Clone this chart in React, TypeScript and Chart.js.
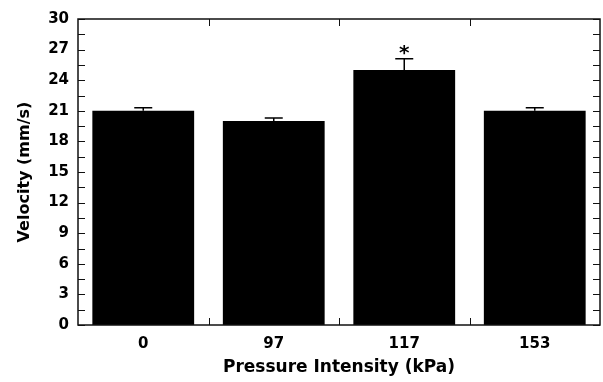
import React, { useEffect, useRef } from "react";
import { Chart, registerables } from "chart.js";

Chart.register(...registerables);

const categories = ["0", "97", "117", "153"];
const velocity = [21.0, 20.0, 25.0, 21.0];
const errors = [0.3, 0.3, 1.1, 0.3];
const significance = ["", "", "*", ""];
const yTicks = [0, 3, 6, 9, 12, 15, 18, 21, 24, 27, 30];

const FONT = "'DejaVu Sans', sans-serif";

const decorPlugin = {
  id: "decor",
  afterDatasetsDraw(chart: any) {
    const { ctx, chartArea, scales } = chart;
    const x = scales.x;
    const y = scales.y;
    const { left, right, top, bottom } = chartArea;
    ctx.save();
    ctx.strokeStyle = "#000";
    ctx.lineWidth = 1.5;
    const meta = chart.getDatasetMeta(0);
    meta.data.forEach((bar: any, i: number) => {
      const cx = bar.x;
      const yTop = y.getPixelForValue(velocity[i]);
      const yErr = y.getPixelForValue(velocity[i] + errors[i]);
      ctx.beginPath();
      ctx.moveTo(cx, yTop);
      ctx.lineTo(cx, yErr);
      ctx.moveTo(cx - 9, yErr);
      ctx.lineTo(cx + 9, yErr);
      ctx.stroke();
      if (significance[i]) {
        ctx.fillStyle = "#000";
        ctx.font = `bold 20px ${FONT}`;
        ctx.textAlign = "center";
        ctx.textBaseline = "middle";
        ctx.fillText(significance[i], cx, yErr - 5);
      }
    });
    ctx.lineWidth = 1.5;
    ctx.strokeStyle = "#111";
    ctx.strokeRect(left, top, right - left, bottom - top);
    ctx.lineWidth = 1;
    for (let v = 0; v <= 30; v += 1.5) {
      const py = Math.round(y.getPixelForValue(v)) + 0.5;
      ctx.beginPath();
      ctx.moveTo(left, py);
      ctx.lineTo(left + 7, py);
      ctx.moveTo(right, py);
      ctx.lineTo(right - 7, py);
      ctx.stroke();
    }
    for (let i = 1; i < categories.length; i++) {
      const px = Math.round((x.getPixelForValue(i - 1) + x.getPixelForValue(i)) / 2) + 0.5;
      ctx.beginPath();
      ctx.moveTo(px, top);
      ctx.lineTo(px, top + 7);
      ctx.moveTo(px, bottom);
      ctx.lineTo(px, bottom - 7);
      ctx.stroke();
    }
    ctx.restore();
  },
};

export default function App() {
  const ref = useRef<HTMLCanvasElement>(null);
  useEffect(() => {
    document.body.style.margin = "0";
    const chart = new Chart(ref.current!, {
      type: "bar",
      data: {
        labels: categories,
        datasets: [
          {
            data: velocity,
            backgroundColor: "#000",
            borderWidth: 0,
            barPercentage: 0.78,
            categoryPercentage: 1,
          },
        ],
      },
      options: {
        animation: false,
        responsive: false,
        layout: { padding: { top: 19, right: 3, left: 11, bottom: 0 } },
        plugins: { legend: { display: false }, tooltip: { enabled: false } },
        scales: {
          x: {
            grid: { display: false, drawTicks: false },
            border: { display: false },
            ticks: { color: "#000", font: { family: FONT, weight: "bold", size: 15 }, padding: 10 },
            title: {
              display: true,
              text: "Pressure Intensity (kPa)",
              color: "#000",
              font: { family: FONT, weight: "bold", size: 17 },
              padding: { top: 5 },
            },
            afterFit(scale: any) {
              scale.height = 57;
            },
          },
          y: {
            min: 0,
            max: 30,
            afterBuildTicks(scale: any) {
              scale.ticks = yTicks.map((v) => ({ value: v }));
            },
            grid: { display: false, drawTicks: false },
            border: { display: false },
            ticks: { color: "#000", font: { family: FONT, weight: "bold", size: 15 }, padding: 9 },
            title: {
              display: true,
              text: "Velocity (mm/s)",
              color: "#000",
              font: { family: FONT, weight: "bold", size: 16 },
              padding: { bottom: 4 },
            },
            afterFit(scale: any) {
              scale.width = 67;
            },
          },
        },
      },
      plugins: [decorPlugin],
    });
    return () => chart.destroy();
  }, []);
  return (
    <div style={{ position: "absolute", left: 0, top: 0, width: 603, height: 382, background: "#fff" }}>
      <canvas ref={ref} width={603} height={382} />
    </div>
  );
}
